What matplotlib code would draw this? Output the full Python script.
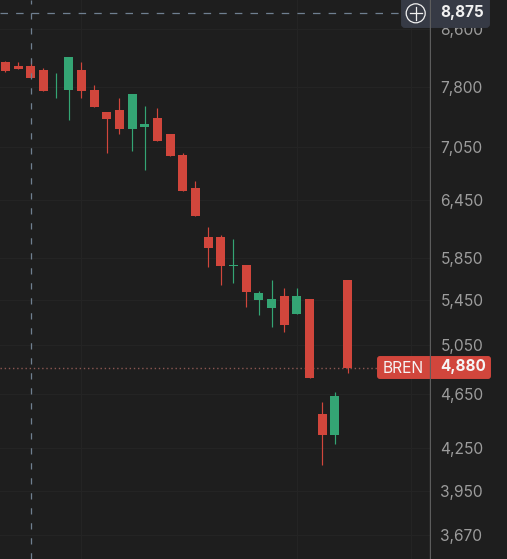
import matplotlib
matplotlib.use("Agg")
import matplotlib.pyplot as plt
from matplotlib.patches import FancyBboxPatch, Circle

# OHLC
opens = [8135, 8081, 8081, 8026, 7820, 7761, 8026, 7761, 7478, 7504, 7268, 7292, 7403, 7207,
         6956, 6580, 6059, 6059, 5771, 5780, 5450, 5377, 5486, 5323, 5459, 4498, 4342, 5636]
highs = [8149, 8135, 8163, 8054, 7986, 8204, 8135, 7827, 7478, 7659, 7709, 7554, 7529, 7207,
         6980, 6658, 6162, 6080, 6039, 5780, 5533, 5636, 5561, 5561, 5459, 4590, 4668, 5636]
lows = [7999, 8040, 7919, 7748, 7659, 7378, 7659, 7542, 6980, 7207, 7003, 6783, 7122, 6945,
        6547, 6277, 5761, 5589, 5608, 5386, 5314, 5207, 5164, 5323, 4779, 4128, 4276, 4819]
closes = [8013, 8040, 7919, 7748, 7833, 8204, 7748, 7542, 7391, 7268, 7709, 7329, 7122, 6945,
          6547, 6277, 5948, 5771, 5780, 5523, 5514, 5459, 5225, 5486, 4779, 4342, 4636, 4865]

tick_values = [3670, 3950, 4250, 4650, 5050, 5450, 5850, 6450, 7050, 7800, 8600]
tick_labels = ["3,670", "3,950", "4,250", "4,650", "5,050", "5,450", "5,850", "6,450", "7,050", "7,800", "8,600"]
grid_candles = [6, 23, 32]
crosshair_candle = 2
crosshair_price = 8830
last_price = 4865

BG = "#1e1e1e"
RED = "#d1463c"
GREEN = "#34a574"
plt.rcParams["font.family"] = ["Inter", "DejaVu Sans"]

fig = plt.figure(figsize=(5.07, 5.59), dpi=100, facecolor=BG)
ax = fig.add_axes([0, 0, 430 / 507, 1], facecolor=BG)
ax.set_yscale("log")
ax.set_ylim(3525, 9030)
ax.set_xlim(-0.43, 33.51)

ax.yaxis.tick_right()
ax.set_yticks(tick_values)
ax.set_yticklabels(tick_labels, fontsize=11.2, color="#9c9c9c")
ax.minorticks_off()
ax.tick_params(axis="y", length=0, pad=7.5)
ax.set_xticks([])
for s in ax.spines.values():
    s.set_visible(False)

# faint grid
for v in tick_values:
    ax.axhline(v, color="#242424", lw=0.72, zorder=0)
for c in grid_candles:
    ax.axvline(c, color="#242424", lw=0.72, zorder=0)

# candles
for i in range(len(opens)):
    col = GREEN if closes[i] >= opens[i] else RED
    top = max(opens[i], closes[i])
    bot = min(opens[i], closes[i])
    ax.vlines(i, lows[i], highs[i], color=col, lw=0.85, zorder=3)
    ax.bar(i, top - bot, bottom=bot, width=0.71, color=col, linewidth=0, zorder=3)

# crosshair and last price line
ax.axhline(crosshair_price, color="#6f7f90", lw=0.9, dashes=(6, 6.5), zorder=2)
ax.axvline(crosshair_candle, color="#6f7f90", lw=0.9, dashes=(5, 7), zorder=4)
ax.axhline(last_price, color="#a8655f", lw=1, dashes=(1, 2), alpha=0.8, zorder=2)

# overlay in pixels for the price labels
ov = fig.add_axes([0, 0, 1, 1], facecolor="none")
ov.set_xlim(0, 507)
ov.set_ylim(559, 0)
ov.axis("off")

ov.add_patch(FancyBboxPatch((402, -4), 87, 31, boxstyle="round,pad=0,rounding_size=3",
                            fc="#363a45", ec="#363a45", lw=1.4, zorder=2))
ov.add_patch(Circle((415.7, 13.3), 9.5, fc="none", ec="#f0f0f0", lw=0.9, zorder=4))
ov.plot([409.5, 422], [13.3, 13.3], color="#f0f0f0", lw=0.9, zorder=4)
ov.plot([415.7, 415.7], [7, 19.5], color="#f0f0f0", lw=0.9, zorder=4)
ov.text(462.5, 13, "8,875", color="#f0f0f0", fontsize=11, fontweight="bold", ha="center", va="center", zorder=4)

ov.add_patch(FancyBboxPatch((378, 357), 112, 21, boxstyle="round,pad=0,rounding_size=2",
                            fc=RED, ec=RED, lw=1.4, zorder=2))
ov.text(403.5, 368.5, "BREN", color="#f5f5f5", fontsize=11.2, ha="center", va="center", zorder=4)
ov.text(463.5, 367, "4,880", color="#f5f5f5", fontsize=11, fontweight="bold", ha="center", va="center", zorder=4)

# price axis line sits on top of both labels
ov.plot([430.4, 430.4], [0, 559], color="#5f5f5f", lw=0.8, zorder=5, snap=False)

fig.savefig("out.png", dpi=100, facecolor=BG)
